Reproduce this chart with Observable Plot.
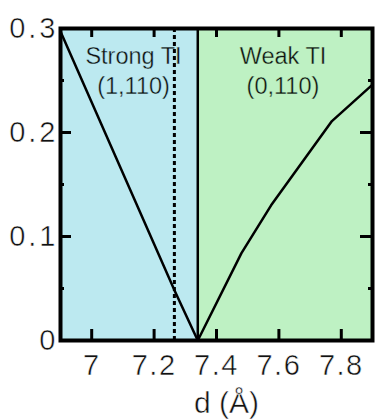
<!DOCTYPE html>
<html><head><meta charset="utf-8">
<script src="https://cdn.jsdelivr.net/npm/d3@7"></script>
<script src="https://cdn.jsdelivr.net/npm/@observablehq/plot@0.6"></script>
<style>
body{margin:0;background:#fff}
#chart svg{display:block}
#chart svg g, #chart svg text{paint-order:normal !important}
g[aria-label="x-axis tick label"] text{letter-spacing:1.5px}
g[aria-label="y-axis tick label"] text{letter-spacing:3px}
</style>
</head><body><div id="chart"></div>
<script>
// Regions (topological phases)
const regionLabels = ["Strong TI\n(1,110)", "Weak TI\n(0,110)"];
const regionFrom = [6.9, 7.34];
const regionTo = [7.34, 7.9];
const regionFill = ["#bce9f0", "#bef1c3"];
const labelD = [7.134, 7.613];
const labelGap = [0.286, 0.286];

// Gap curve vs d
const dValues = [6.9, 7.267, 7.34, 7.48, 7.575, 7.77, 7.9];
const gapValues = [0.297, 0.047, 0, 0.084, 0.130, 0.211, 0.246];

// Vertical markers
const transitionD = [7.34];
const dashedD = [7.265];

// Ticks
const xTicks = [7, 7.2, 7.4, 7.6, 7.8];
const yTicks = [0, 0.1, 0.2, 0.3];
const yInnerTicks = [0.1, 0.2];
const yMinorTicks = [0.05, 0.15, 0.25];

const regions = regionLabels.map((t, i) => ({label: t, x1: regionFrom[i], x2: regionTo[i], fill: regionFill[i], lx: labelD[i], ly: labelGap[i]}));
const curve = dValues.map((d, i) => ({d, gap: gapValues[i]}));

const font = "'Liberation Sans', Arial, Helvetica, sans-serif";
const ink = "#000";

const chart = Plot.plot({
  width: 388,
  height: 420,
  marginLeft: 60,
  marginRight: 16,
  marginTop: 28,
  marginBottom: 80,
  style: {fontFamily: font, fontSize: "29px", color: ink, background: "#fff"},
  x: {domain: [6.9, 7.9]},
  y: {domain: [0, 0.3]},
  marks: [
    Plot.rect(regions, {x1: "x1", x2: "x2", fill: "fill"}),
    Plot.ruleX(dashedD, {x: d => d, stroke: ink, strokeWidth: 3, strokeDasharray: "4,3"}),
    Plot.ruleX(transitionD, {x: d => d, stroke: ink, strokeWidth: 2.5}),
    Plot.line(curve, {x: "d", y: "gap", stroke: ink, strokeWidth: 2.5}),
    // inward ticks: bottom, top
    Plot.tickX(xTicks, {x: d => d, insetTop: 301, stroke: ink, strokeWidth: 3}),
    Plot.tickX(xTicks, {x: d => d, insetBottom: 303, stroke: ink, strokeWidth: 3}),
    // inward ticks: left, right
    Plot.tickY(yInnerTicks, {y: d => d, insetRight: 301, stroke: ink, strokeWidth: 3}),
    Plot.tickY(yMinorTicks, {y: d => d, insetRight: 308, stroke: ink, strokeWidth: 3}),
    Plot.tickY(yInnerTicks, {y: d => d, insetLeft: 300, stroke: ink, strokeWidth: 3}),
    Plot.tickY(yMinorTicks, {y: d => d, insetLeft: 308, stroke: ink, strokeWidth: 3}),
    Plot.frame({stroke: ink, strokeWidth: 4}),
    Plot.axisX({ticks: xTicks, tickSize: 0, tickPadding: 14, label: null, fontSize: 29, fill: "#111", tickFormat: d => String(d), textStroke: "#fff", textStrokeWidth: 0.5}),
    Plot.axisY({ticks: yTicks, tickSize: 0, tickPadding: 2, label: null, fontSize: 29, fill: "#111", tickFormat: d => String(d), textStroke: "#fff", textStrokeWidth: 0.5}),
    Plot.text(regions, {x: "lx", y: "ly", text: "label", lineAnchor: "top", lineHeight: 1.28, fontSize: 23.5, fill: "#111", stroke: "fill", strokeWidth: 0.35}),
    Plot.text(["d (Å)"], {frameAnchor: "bottom", dy: 72, dx: 10, lineAnchor: "bottom", fontSize: 30, fill: "#111", stroke: "#fff", strokeWidth: 0.5})
  ]
});
document.getElementById("chart").appendChild(chart);
</script>
</body></html>
